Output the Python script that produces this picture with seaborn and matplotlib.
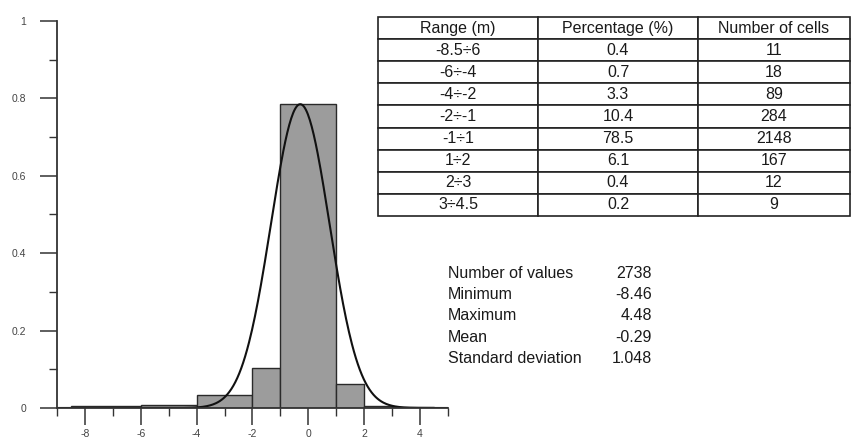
"""Histogram of residuals with fitted normal curve, range table and summary stats."""
import matplotlib

matplotlib.use("Agg")

import matplotlib.pyplot as plt  # noqa: E402
import numpy as np  # noqa: E402
import pandas as pd  # noqa: E402
import seaborn as sns  # noqa: E402
from matplotlib.ticker import FixedLocator, MultipleLocator  # noqa: E402

# data
BIN_EDGES = [-8.5, -6, -4, -2, -1, 1, 2, 3, 4.5]
RANGES = ["-8.5÷6", "-6÷-4", "-4÷-2", "-2÷-1", "-1÷1", "1÷2", "2÷3", "3÷4.5"]
PERCENT = [0.4, 0.7, 3.3, 10.4, 78.5, 6.1, 0.4, 0.2]
CELLS = [11, 18, 89, 284, 2148, 167, 12, 9]
TABLE_HEADER = ["Range (m)", "Percentage (%)", "Number of cells"]

STAT_LABELS = ["Number of values", "Minimum", "Maximum", "Mean", "Standard deviation"]
STAT_VALUES = ["2738", "-8.46", "4.48", "-0.29", "1.048"]

MEAN = -0.29
SD = 1.048
CURVE_PEAK = 0.785

XTICKS = [-8, -6, -4, -2, 0, 2, 4]
YTICKS = [0, 0.2, 0.4, 0.6, 0.8, 1.0]
YTICK_LABELS = ["0", "0.2", "0.4", "0.6", "0.8", "1"]

sns.set_theme(style="white")
plt.rcParams["font.family"] = ["Liberation Sans", "DejaVu Sans"]

W, H = 851, 442
fig = plt.figure(figsize=(W / 100, H / 100), dpi=100)


def px_box(x0, y0, x1, y1):
    """Pixel box (top-left origin) -> figure rect."""
    return [x0 / W, 1 - y1 / H, (x1 - x0) / W, (y1 - y0) / H]


ax = fig.add_axes(px_box(57, 21, 448, 408))

mids = [(a + b) / 2 for a, b in zip(BIN_EDGES[:-1], BIN_EDGES[1:])]
df = pd.DataFrame({"mid": mids, "frac": [p / 100 for p in PERCENT]})
sns.histplot(data=df, x="mid", weights="frac", bins=BIN_EDGES, stat="count",
             color="#9c9c9c", edgecolor="#2a2a2a", linewidth=1.0, alpha=1.0, ax=ax)

xs = np.linspace(-9, 5, 400)
curve = pd.DataFrame({"x": xs, "y": CURVE_PEAK * np.exp(-0.5 * ((xs - MEAN) / SD) ** 2)})
sns.lineplot(data=curve, x="x", y="y", color="#111111", linewidth=1.5, ax=ax)

ax.set_xlim(-9, 5)
ax.set_ylim(0, 1)
ax.set_xlabel("")
ax.set_ylabel("")
for side in ("top", "right"):
    ax.spines[side].set_visible(False)
for side in ("left", "bottom"):
    ax.spines[side].set_color("#333333")
    ax.spines[side].set_linewidth(1.3)

ax.xaxis.set_major_locator(FixedLocator(XTICKS))
ax.xaxis.set_minor_locator(MultipleLocator(1))
ax.yaxis.set_major_locator(FixedLocator(YTICKS))
ax.yaxis.set_minor_locator(MultipleLocator(0.1))
ax.set_xticklabels([str(t) for t in XTICKS])
ax.set_yticklabels(YTICK_LABELS)
ax.tick_params(axis="both", which="major", direction="out", length=12, width=1.1,
               color="#333333", labelsize=7.5, labelcolor="#444444", pad=3)
ax.tick_params(axis="both", which="minor", direction="out", length=6, width=1.0,
               color="#333333")
ax.tick_params(axis="x", which="major", bottom=True)
ax.tick_params(axis="x", which="minor", bottom=True)
ax.tick_params(axis="y", which="both", left=True)
ax.tick_params(axis="y", which="major", pad=10)
ax.grid(False)

# range table
tax = fig.add_axes(px_box(378, 17, 850, 216))
tax.axis("off")
rows = [[r, f"{p:.1f}", str(c)] for r, p, c in zip(RANGES, PERCENT, CELLS)]
tbl = tax.table(cellText=rows, colLabels=TABLE_HEADER, cellLoc="center",
                colWidths=[160, 160, 152], bbox=[0, 0, 1, 1])
tbl.auto_set_font_size(False)
for cell in tbl.get_celld().values():
    cell.set_edgecolor("#222222")
    cell.set_linewidth(1.2)
    cell.set_facecolor("white")
    cell.get_text().set_fontsize(11.5)
    cell.get_text().set_color("#1a1a1a")

# summary statistics
for i, (lab, val) in enumerate(zip(STAT_LABELS, STAT_VALUES)):
    y = 1 - (273 + i * 21.4) / H
    fig.text(448 / W, y, lab, ha="left", va="center", fontsize=11.5, color="#1a1a1a")
    fig.text(652 / W, y, val, ha="right", va="center", fontsize=11.5, color="#1a1a1a")

fig.savefig("out.png", dpi=100)
